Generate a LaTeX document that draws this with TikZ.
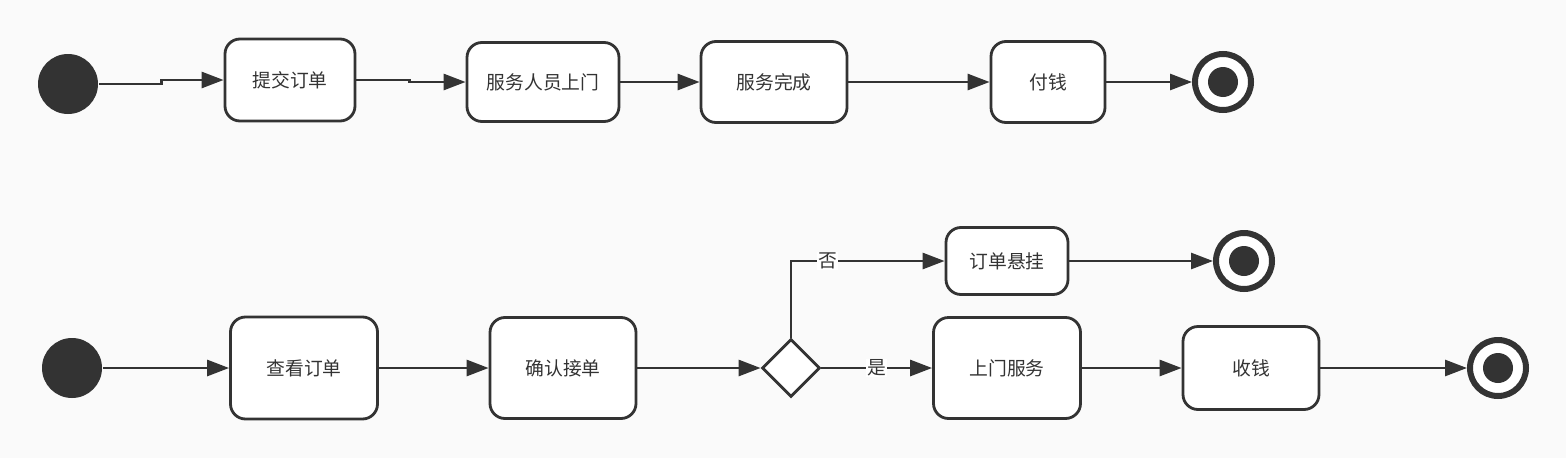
\documentclass[tikz,border=0pt]{standalone}
\usepackage{fontspec}
\setmainfont{Noto Sans CJK SC}
\usetikzlibrary{arrows.meta,shapes.geometric}
\definecolor{ink}{HTML}{333333}
\definecolor{paper}{HTML}{FAFAFA}
\tikzset{tip/.tip={Triangle[length=22pt,width=16pt]}}

\begin{document}
\begin{tikzpicture}[x=1pt,y=-1pt,->,>=tip,line width=2.8pt,draw=ink,
                    font=\fontsize{18.8}{20}\selectfont,text=ink]
  \tikzstyle{act}=[rectangle,rounded corners=15pt,draw=ink,fill=white,
                   text=ink,line width=2.8pt]
  \tikzstyle{startnode}=[circle,fill=ink,draw=none,minimum size=60pt,inner sep=0pt]
  \tikzstyle{endnode}=[circle,draw=ink,fill=white,line width=6pt,minimum size=56pt,
                       inner sep=0pt,path picture={\fill[ink] (path picture bounding box.center) circle (15pt);}]
  \tikzstyle{choice}=[diamond,draw=ink,fill=white,minimum width=58pt,minimum height=58pt,
                      inner sep=0pt,line width=2.8pt]
  \tikzstyle{guard}=[fill=white,inner sep=1pt,text=ink]

  \fill[paper] (0,0) rectangle (1566,458);
  \useasboundingbox (0,0) rectangle (1566,458);

  % customer
  \node[startnode] (s1) at (68,84) {};
  \node[act,minimum width=130pt,minimum height=82pt,node distance=222pt,yshift=4pt]
        (b1) [right of=s1] {提交订单};
  \node[act,minimum width=152pt,minimum height=79pt,node distance=253pt,yshift=-2pt]
        (b2) [right of=b1] {服务人员上门};
  \node[act,minimum width=146pt,minimum height=81pt,node distance=231pt]
        (b3) [right of=b2] {服务完成};
  \node[act,minimum width=114pt,minimum height=81pt,node distance=274pt]
        (b4) [right of=b3] {付钱};
  \node[endnode,node distance=175pt] (e1) [right of=b4] {};

  \draw (s1.east) -- ++(62,0) |- (b1);
  \draw (b1.east) -- ++(53,0) |- (b2);
  \path (b2) edge (b3)
        (b3) edge (b4)
        (b4) edge (e1);

  % staff
  \node[startnode] (s2) at (72,368) {};
  \node[act,minimum width=147pt,minimum height=102pt,node distance=232pt]
        (c1) [right of=s2] {查看订单};
  \node[act,minimum width=146pt,minimum height=101pt,node distance=259pt]
        (c2) [right of=c1] {确认接单};
  \node[choice,node distance=228pt] (d) [right of=c2] {};
  \node[act,minimum width=147pt,minimum height=101pt,node distance=216pt]
        (c3) [right of=d] {上门服务};
  \node[act,minimum width=122pt,minimum height=67pt,node distance=107pt]
        (h) [above of=c3] {订单悬挂};
  \node[endnode,node distance=237pt] (e2) [right of=h] {};
  \node[act,minimum width=136pt,minimum height=83pt,node distance=244pt]
        (c4) [right of=c3] {收钱};
  \node[endnode,node distance=247pt] (e3) [right of=c4] {};

  \path (s2) edge (c1)
        (c1) edge (c2)
        (c2) edge (d)
        (d)  edge node[guard] {是} (c3)
        (h)  edge (e2)
        (c3) edge (c4)
        (c4) edge (e3);
  \draw (d.north) |- node[guard,pos=0.62] {否} (h);
\end{tikzpicture}
\end{document}
